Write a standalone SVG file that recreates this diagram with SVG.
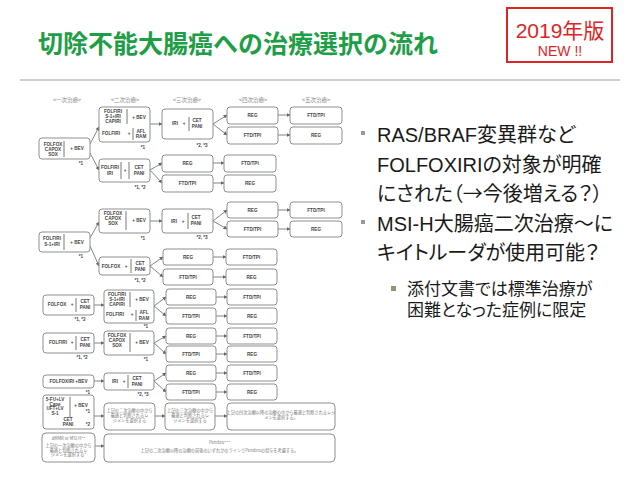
<svg xmlns="http://www.w3.org/2000/svg" width="638" height="479" viewBox="0 0 638 479">
<defs>
<marker id="ah" markerWidth="4" markerHeight="4" refX="3.5" refY="2" orient="auto" markerUnits="userSpaceOnUse"><path d="M0,0 L4,2 L0,4 z" fill="#666"/></marker>
<style>
.bx{fill:#fff;stroke:#8f8f8f;stroke-width:1}
.t{font-family:"Liberation Sans","Noto Sans CJK JP",sans-serif;font-weight:bold;font-size:4.6px;fill:#444;text-anchor:middle}
.j{font-family:"Noto Sans CJK JP",sans-serif;font-size:4.2px;fill:#777;text-anchor:middle}
.hd{font-family:"Noto Sans CJK JP",sans-serif;font-size:5.5px;fill:#888;text-anchor:middle}
.bar{stroke:#555;stroke-width:0.8}
.c{fill:none;stroke:#666;stroke-width:0.8;marker-end:url(#ah)}
.rt{font-family:"Liberation Sans","Noto Sans CJK JP",sans-serif;font-size:20px;fill:#1a1a1a;font-feature-settings:"palt"}
.st{font-family:"Liberation Sans","Noto Sans CJK JP",sans-serif;font-size:17px;fill:#1a1a1a;font-feature-settings:"palt"}
.cj{font-family:"Noto Sans CJK JP",sans-serif}
</style>
</defs>
<rect width="638" height="479" fill="#fff"/>
<text x="38" y="53" font-family="Noto Sans CJK JP,sans-serif" font-weight="bold" font-size="25" fill="#1f9e48">切除不能大腸癌への治療選択の流れ</text>
<rect x="507" y="8" width="105" height="54" fill="#fff" stroke="#e02424" stroke-width="2"/>
<text x="560" y="38" font-family="Liberation Sans,Noto Sans CJK JP,sans-serif" font-size="21" fill="#e02424" text-anchor="middle">2019年版</text>
<text x="560" y="56" font-family="Liberation Sans,sans-serif" font-size="14" fill="#e02424" text-anchor="middle">NEW !!</text>
<line x1="20" y1="80" x2="620" y2="80" stroke="#c0c0c0" stroke-width="1.5"/>

<g id="headers">
<text class="hd" x="67" y="102">&lt;一次治療&gt;</text>
<text class="hd" x="125" y="102">&lt;二次治療&gt;</text>
<text class="hd" x="187" y="102">&lt;三次治療&gt;</text>
<text class="hd" x="253" y="102">&lt;四次治療&gt;</text>
<text class="hd" x="316" y="102">&lt;五次治療&gt;</text>
</g>

<g id="connectors">
<path class="c" d="M90,144 L99,127"/>
<path class="c" d="M90,153 L99,170"/>
<path class="c" d="M150,124 L162,124"/>
<path class="c" d="M213,124 L227,115"/>
<path class="c" d="M213,124 L227,135"/>
<path class="c" d="M278,115 L290,115"/>
<path class="c" d="M278,135 L290,135"/>
<path class="c" d="M150,170 L162,163"/>
<path class="c" d="M150,170 L162,183"/>
<path class="c" d="M213,163 L224,163"/>
<path class="c" d="M213,183 L224,183"/>
<path class="c" d="M90,238 L99,222"/>
<path class="c" d="M90,246 L99,266"/>
<path class="c" d="M150,221 L162,221"/>
<path class="c" d="M213,221 L227,210"/>
<path class="c" d="M213,221 L227,229"/>
<path class="c" d="M278,210 L290,210"/>
<path class="c" d="M278,229 L290,229"/>
<path class="c" d="M150,266 L163,257"/>
<path class="c" d="M150,266 L163,277"/>
<path class="c" d="M213,257 L226,257"/>
<path class="c" d="M213,277 L226,277"/>
<path class="c" d="M94,305 L104,305"/>
<path class="c" d="M154,306 L166,297"/>
<path class="c" d="M154,306 L166,316"/>
<path class="c" d="M216,297 L227,297"/>
<path class="c" d="M216,316 L227,316"/>
<path class="c" d="M94,343 L104,343"/>
<path class="c" d="M154,343 L166,336"/>
<path class="c" d="M154,343 L166,354"/>
<path class="c" d="M216,336 L227,336"/>
<path class="c" d="M216,354 L227,354"/>
<path class="c" d="M94,381 L104,381"/>
<path class="c" d="M154,381 L166,373"/>
<path class="c" d="M154,381 L166,392"/>
<path class="c" d="M216,373 L227,373"/>
<path class="c" d="M216,392 L227,392"/>
<path class="c" d="M94,416 L104,416"/>
<path class="c" d="M155,416 L165,416"/>
<path class="c" d="M215,416 L227,416"/>
<path class="c" d="M95,446 L104,446"/>
</g>

<!-- Group 1 -->
<g id="g1-first"><rect class="bx" x="39" y="138" width="51" height="21" rx="3"/>
<text class="t" x="53" y="146">FOLFOX</text><text class="t" x="53" y="151">CAPOX</text><text class="t" x="53" y="156">SOX</text>
<line class="bar" x1="64" y1="141" x2="64" y2="157"/><text class="t" x="77" y="150">+ BEV</text>
<text class="t" x="81" y="165">*1</text></g>
<g id="g1-second-a"><rect class="bx" x="99" y="107" width="51" height="35" rx="3"/>
<text class="t" x="113" y="113">FOLFIRI</text><text class="t" x="113" y="118">S-1+IRI</text><text class="t" x="113" y="123">CAPIRI</text>
<line class="bar" x1="127" y1="109" x2="127" y2="124"/><text class="t" x="139" y="119">+ BEV</text>
<text class="t" x="111" y="135">FOLFIRI</text><text class="t" x="129" y="135">+</text>
<line class="bar" x1="133" y1="128" x2="133" y2="140"/><text class="t" x="141" y="133">AFL</text><text class="t" x="141" y="138">RAM</text>
<text class="t" x="143" y="149">*1</text></g>
<g id="g1-third"><rect class="bx" x="162" y="109" width="51" height="30" rx="3"/>
<text class="t" x="175" y="125">IRI</text><text class="t" x="184" y="125">+</text>
<line class="bar" x1="189" y1="117" x2="189" y2="131"/><text class="t" x="197" y="122">CET</text><text class="t" x="197" y="128">PANI</text>
<text class="t" x="202" y="147">*2, *3</text></g>
<g id="g1-4a"><rect class="bx" x="227" y="107" width="51" height="17" rx="3"/><text class="t" x="252.5" y="117">REG</text></g>
<g id="g1-4b"><rect class="bx" x="227" y="127" width="51" height="17" rx="3"/><text class="t" x="252.5" y="137">FTD/TPI</text></g>
<g id="g1-5a"><rect class="bx" x="290" y="107" width="52" height="17" rx="3"/><text class="t" x="316" y="117">FTD/TPI</text></g>
<g id="g1-5b"><rect class="bx" x="290" y="127" width="52" height="17" rx="3"/><text class="t" x="316" y="137">REG</text></g>
<g id="g1-second-b"><rect class="bx" x="99" y="159" width="51" height="23" rx="3"/>
<text class="t" x="110" y="169">FOLFIRI</text><text class="t" x="110" y="175">IRI</text>
<line class="bar" x1="121" y1="162" x2="121" y2="179"/><text class="t" x="125" y="172">+</text>
<line class="bar" x1="129" y1="162" x2="129" y2="179"/><text class="t" x="139" y="169">CET</text><text class="t" x="139" y="175">PANI</text>
<text class="t" x="140" y="189">*1, *2</text></g>
<g id="g1-3c"><rect class="bx" x="162" y="155" width="51" height="17" rx="3"/><text class="t" x="187.5" y="165">REG</text></g>
<g id="g1-3d"><rect class="bx" x="162" y="175" width="51" height="17" rx="3"/><text class="t" x="187.5" y="185">FTD/TPI</text></g>
<g id="g1-4c"><rect class="bx" x="224" y="155" width="52" height="17" rx="3"/><text class="t" x="250" y="165">FTD/TPI</text></g>
<g id="g1-4d"><rect class="bx" x="224" y="175" width="52" height="17" rx="3"/><text class="t" x="250" y="185">REG</text></g>

<!-- Group 2 -->
<g id="g2-first"><rect class="bx" x="39" y="232" width="51" height="20" rx="3"/>
<text class="t" x="52" y="240">FOLFIRI</text><text class="t" x="52" y="246">S-1+IRI</text>
<line class="bar" x1="64" y1="234" x2="64" y2="250"/><text class="t" x="77" y="244">+ BEV</text>
<text class="t" x="81" y="258">*1</text></g>
<g id="g2-second-a"><rect class="bx" x="99" y="209" width="51" height="24" rx="3"/>
<text class="t" x="113" y="215">FOLFOX</text><text class="t" x="113" y="220">CAPOX</text><text class="t" x="113" y="225">SOX</text>
<line class="bar" x1="126" y1="211" x2="126" y2="230"/><text class="t" x="139" y="222">+ BEV</text>
<text class="t" x="143" y="240">*1</text></g>
<g id="g2-third"><rect class="bx" x="162" y="209" width="51" height="24" rx="3"/>
<text class="t" x="174" y="223">IRI</text><text class="t" x="183" y="223">+</text>
<line class="bar" x1="188" y1="213" x2="188" y2="229"/><text class="t" x="196" y="219">CET</text><text class="t" x="196" y="225">PANI</text>
<text class="t" x="202" y="239">*2, *3</text></g>
<g id="g2-4a"><rect class="bx" x="227" y="202" width="51" height="16" rx="3"/><text class="t" x="252.5" y="211.5">REG</text></g>
<g id="g2-4b"><rect class="bx" x="227" y="221" width="51" height="16" rx="3"/><text class="t" x="252.5" y="230.5">FTD/TPI</text></g>
<g id="g2-5a"><rect class="bx" x="290" y="202" width="52" height="16" rx="3"/><text class="t" x="316" y="211.5">FTD/TPI</text></g>
<g id="g2-5b"><rect class="bx" x="290" y="221" width="52" height="16" rx="3"/><text class="t" x="316" y="230.5">REG</text></g>
<g id="g2-second-b"><rect class="bx" x="99" y="257" width="51" height="18" rx="3"/>
<text class="t" x="111" y="268">FOLFOX</text><text class="t" x="126" y="268">+</text>
<line class="bar" x1="131" y1="259" x2="131" y2="273"/><text class="t" x="140" y="265">CET</text><text class="t" x="140" y="271">PANI</text>
<text class="t" x="140" y="282">*1, *2</text></g>
<g id="g2-3c"><rect class="bx" x="163" y="249" width="50" height="16" rx="3"/><text class="t" x="188" y="258.5">REG</text></g>
<g id="g2-3d"><rect class="bx" x="163" y="269" width="50" height="16" rx="3"/><text class="t" x="188" y="278.5">FTD/TPI</text></g>
<g id="g2-4c"><rect class="bx" x="226" y="249" width="51" height="16" rx="3"/><text class="t" x="251.5" y="258.5">FTD/TPI</text></g>
<g id="g2-4d"><rect class="bx" x="226" y="269" width="51" height="16" rx="3"/><text class="t" x="251.5" y="278.5">REG</text></g>

<!-- Group 3 -->
<g id="g3-first"><rect class="bx" x="43" y="295" width="51" height="20" rx="3"/>
<text class="t" x="57" y="306">FOLFOX</text><text class="t" x="72" y="306">+</text>
<line class="bar" x1="76" y1="298" x2="76" y2="312"/><text class="t" x="85" y="303">CET</text><text class="t" x="85" y="309">PANI</text>
<text class="t" x="80" y="321">*1, *2</text></g>
<g id="g3-second"><rect class="bx" x="104" y="290" width="50" height="33" rx="3"/>
<text class="t" x="117" y="296">FOLFIRI</text><text class="t" x="117" y="301">S-1+IRI</text><text class="t" x="117" y="306">CAPIRI</text>
<line class="bar" x1="130" y1="292" x2="130" y2="307"/><text class="t" x="142" y="301">+ BEV</text>
<text class="t" x="115" y="316">FOLFIRI</text><text class="t" x="132" y="316">+</text>
<line class="bar" x1="136" y1="310" x2="136" y2="321"/><text class="t" x="144" y="314">AFL</text><text class="t" x="144" y="320">RAM</text>
<text class="t" x="146" y="328">*1</text></g>
<g id="g3-3a"><rect class="bx" x="166" y="289" width="50" height="16" rx="3"/><text class="t" x="191" y="298.5">REG</text></g>
<g id="g3-3b"><rect class="bx" x="166" y="308" width="50" height="16" rx="3"/><text class="t" x="191" y="317.5">FTD/TPI</text></g>
<g id="g3-4a"><rect class="bx" x="227" y="289" width="50" height="16" rx="3"/><text class="t" x="252" y="298.5">FTD/TPI</text></g>
<g id="g3-4b"><rect class="bx" x="227" y="308" width="50" height="16" rx="3"/><text class="t" x="252" y="317.5">REG</text></g>

<!-- Group 4 -->
<g id="g4-first"><rect class="bx" x="43" y="333" width="51" height="20" rx="3"/>
<text class="t" x="58" y="344">FOLFIRI</text><text class="t" x="72" y="344">+</text>
<line class="bar" x1="76" y1="336" x2="76" y2="350"/><text class="t" x="85" y="341">CET</text><text class="t" x="85" y="347">PANI</text>
<text class="t" x="82" y="359">*1, *2</text></g>
<g id="g4-second"><rect class="bx" x="104" y="331" width="50" height="24" rx="3"/>
<text class="t" x="117" y="337">FOLFOX</text><text class="t" x="117" y="342">CAPOX</text><text class="t" x="117" y="347">SOX</text>
<line class="bar" x1="130" y1="333" x2="130" y2="352"/><text class="t" x="142" y="344">+ BEV</text>
<text class="t" x="146" y="361">*1</text></g>
<g id="g4-3a"><rect class="bx" x="166" y="328" width="50" height="16" rx="3"/><text class="t" x="191" y="337.5">REG</text></g>
<g id="g4-3b"><rect class="bx" x="166" y="346" width="50" height="16" rx="3"/><text class="t" x="191" y="355.5">FTD/TPI</text></g>
<g id="g4-4a"><rect class="bx" x="227" y="328" width="50" height="16" rx="3"/><text class="t" x="252" y="337.5">FTD/TPI</text></g>
<g id="g4-4b"><rect class="bx" x="227" y="346" width="50" height="16" rx="3"/><text class="t" x="252" y="355.5">REG</text></g>

<!-- Group 5 -->
<g id="g5-first"><rect class="bx" x="43" y="375" width="51" height="13" rx="3"/>
<text class="t" x="68.5" y="383">FOLFOXIRI +BEV</text>
<text class="t" x="88" y="394">*1</text></g>
<g id="g5-second"><rect class="bx" x="104" y="373" width="50" height="17" rx="3"/>
<text class="t" x="115" y="383">IRI</text><text class="t" x="124" y="383">+</text>
<line class="bar" x1="128" y1="375" x2="128" y2="388"/><text class="t" x="137" y="380">CET</text><text class="t" x="137" y="386">PANI</text>
<text class="t" x="143" y="396">*2, *3</text></g>
<g id="g5-3a"><rect class="bx" x="166" y="365" width="50" height="16" rx="3"/><text class="t" x="191" y="374.5">REG</text></g>
<g id="g5-3b"><rect class="bx" x="166" y="384" width="50" height="16" rx="3"/><text class="t" x="191" y="393.5">FTD/TPI</text></g>
<g id="g5-4a"><rect class="bx" x="227" y="365" width="50" height="16" rx="3"/><text class="t" x="252" y="374.5">FTD/TPI</text></g>
<g id="g5-4b"><rect class="bx" x="227" y="384" width="50" height="16" rx="3"/><text class="t" x="252" y="393.5">REG</text></g>

<!-- Group 6 -->
<g id="g6-first"><rect class="bx" x="43" y="395" width="51" height="34" rx="3"/>
<text class="t" x="55" y="401">5-FU+LV</text><text class="t" x="55" y="405.5">Cape</text><text class="t" x="55" y="410">UFT+LV</text><text class="t" x="55" y="414.5">S-1</text>
<line class="bar" x1="70" y1="397" x2="70" y2="417"/><text class="t" x="81" y="407">+ BEV</text><text class="t" x="88" y="413">*1</text>
<text class="t" x="68" y="421">CET</text><text class="t" x="68" y="426">PANI</text><text class="t" x="88" y="426">*2</text></g>
<g id="g6-second"><rect class="bx" x="104" y="403" width="51" height="27" rx="4"/>
<text class="j" x="129.5" y="412">上記の二次治療の中から</text><text class="j" x="129.5" y="417">最適と判断されるレ</text><text class="j" x="129.5" y="422">ジメンを選択する</text></g>
<g id="g6-third"><rect class="bx" x="165" y="403" width="50" height="27" rx="4"/>
<text class="j" x="190" y="412">上記の三次治療の中から</text><text class="j" x="190" y="417">最適と判断されるレ</text><text class="j" x="190" y="422">ジメンを選択する</text></g>
<g id="g6-fourth"><rect class="bx" x="227" y="403" width="108" height="27" rx="4"/>
<text class="j" x="281" y="414">上記の四次治療以降の治療の中から最適と判断されるレジ</text><text class="j" x="281" y="419">メンを選択する。</text></g>

<!-- Group 7 -->
<g id="g7-first"><rect class="bx" x="42" y="433" width="53" height="29" rx="4"/>
<text class="j" x="68.5" y="440">dMMR or MSI-H**</text><text class="j" x="68.5" y="447">上記の一次治療の中から</text><text class="j" x="68.5" y="451.5">最適と判断されるレ</text><text class="j" x="68.5" y="456">ジメンを選択する*</text></g>
<g id="g7-second"><rect class="bx" x="104" y="434" width="231" height="28" rx="4"/>
<text class="j" x="219.5" y="444">Pembro***</text><text class="j" x="219.5" y="452">上記の二次治療以降の治療の前後のいずれかのラインでPembroの投与を考慮する。</text></g>

<!-- Right-hand text -->
<rect x="361" y="131" width="4" height="4" fill="#9a9a9a"/>
<text class="rt" x="377" y="142">RAS/BRAF変異群など</text>
<text class="rt" x="377" y="171.5">FOLFOXIRIの対象が明確</text>
<text class="rt" x="377" y="201">にされた（<tspan class="cj">→</tspan>今後増える？）</text>
<rect x="361" y="220" width="4" height="4" fill="#9a9a9a"/>
<text class="rt" x="377" y="230.5">MSI-H大腸癌二次治療～に</text>
<text class="rt" x="377" y="260">キイトルーダが使用可能？</text>
<rect x="391" y="286" width="5" height="5" fill="#8f9a6a"/>
<text class="st" x="407" y="295">添付文書では標準治療が</text>
<text class="st" x="407" y="316">困難となった症例に限定</text>
</svg>
